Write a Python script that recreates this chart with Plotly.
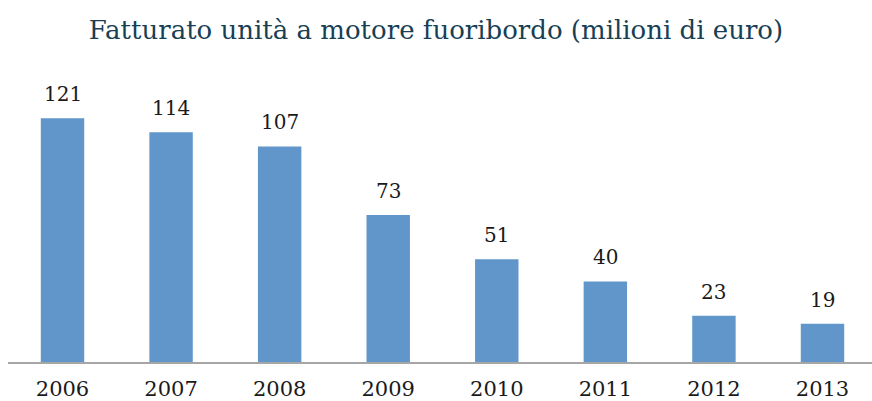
import plotly.graph_objects as go

years = ["2006", "2007", "2008", "2009", "2010", "2011", "2012", "2013"]
revenue = [121, 114, 107, 73, 51, 40, 23, 19]

SERIF = "DejaVu Serif"

fig = go.Figure(
    go.Bar(
        x=years,
        y=revenue,
        width=0.4,
        marker=dict(color="#6096c9", line=dict(width=0)),
        hoverinfo="skip",
    )
)

# value labels floating a little above each bar (category index as x position)
for i, v in enumerate(revenue):
    fig.add_annotation(
        x=i,
        y=v,
        xref="x",
        yref="y",
        text=str(v),
        showarrow=False,
        yanchor="bottom",
        yshift=10,
        font=dict(family=SERIF, size=20, color="#1a1a1a"),
    )

fig.update_layout(
    width=872,
    height=401,
    margin=dict(l=8, r=0, t=80, b=39),
    paper_bgcolor="white",
    plot_bgcolor="white",
    showlegend=False,
    title=dict(
        text="Fatturato unità a motore fuoribordo (milioni di euro)",
        x=0.5,
        xanchor="center",
        y=0.925,
        yanchor="middle",
        font=dict(family=SERIF, size=26, color="#173f55"),
    ),
    xaxis=dict(
        type="category",
        range=[-0.502, 7.456],
        automargin=False,
        showline=True,
        linecolor="#a6a6a6",
        linewidth=2,
        ticks="outside",
        ticklen=7,
        tickcolor="rgba(0,0,0,0)",
        showgrid=False,
        tickfont=dict(family=SERIF, size=21, color="#1a1a1a"),
    ),
    yaxis=dict(
        range=[0, 140],
        visible=False,
        showgrid=False,
    ),
)

fig.write_html("out.html")
